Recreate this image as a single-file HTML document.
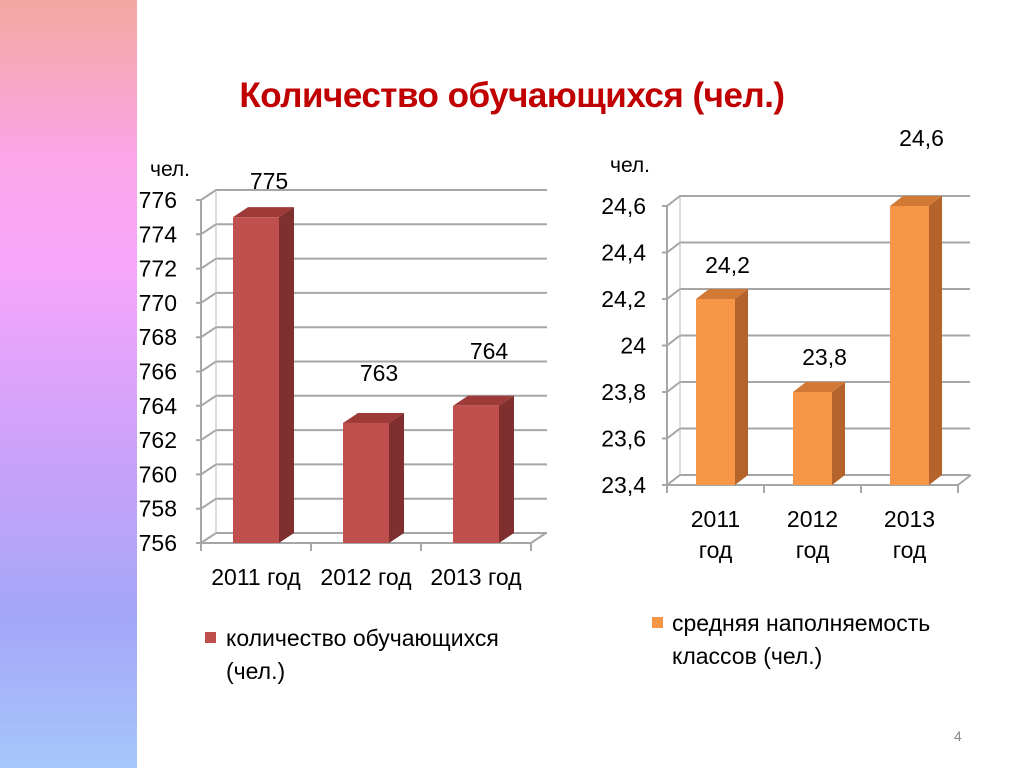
<!DOCTYPE html>
<html><head><meta charset="utf-8"><style>
body{margin:0;width:1024px;height:768px;overflow:hidden;background:#fff;font-family:"Liberation Sans",sans-serif;}
#strip{position:absolute;left:0;top:0;width:137px;height:768px;background:linear-gradient(#f4a8a0 0%,#fba6e6 20%,#f6a6fb 35%,#c9a2f9 60%,#a4a6f9 80%,#a6c6f9 100%);}
#title{position:absolute;left:0;width:1024px;text-align:center;top:76px;font-size:35px;font-weight:bold;color:#c00000;text-indent:0px;letter-spacing:-0.5px}
svg{position:absolute;left:0;top:0}
</style></head><body>
<div id="strip"></div>
<div id="title">Количество обучающихся (чел.)</div>
<svg width="1024" height="768" id="chart"></svg>
<script>
const categoriesL=["2011 год","2012 год","2013 год"];
const valuesL=[775,763,764];
const ticksL=[756,758,760,762,764,766,768,770,772,774,776];
const categoriesR=[["2011","год"],["2012","год"],["2013","год"]];
const valuesR=[24.2,23.8,24.6];
const ticksR=[23.4,23.6,23.8,24,24.2,24.4,24.6];
const tickLabelsR=["23,4","23,6","23,8","24","24,2","24,4","24,6"];
const NS="http://www.w3.org/2000/svg";
const svg=document.getElementById('chart');
function mk(t,a,txt){const e=document.createElementNS(NS,t);for(const k in a)e.setAttribute(k,a[k]);if(txt!==undefined)e.textContent=txt;svg.appendChild(e);return e;}
function chart(o){
 const y=v=>o.y0-(v-o.min)/(o.max-o.min)*(o.y0-o.y1);
 const dx=o.dx,dy=o.dy;
 o.ticks.forEach((t,i)=>{
  const yy=y(t);
  const g=mk('polyline',{points:`${o.x0-5},${yy} ${o.x0},${yy} ${o.x0+dx},${yy-dy} ${o.xr},${yy-dy}`,fill:'none',stroke:'#a6a6a6','stroke-width':2});
  
  
  const tl=mk('text',{x:o.x0-o.tickGap,y:yy+8,'text-anchor':'end','font-size':23,fill:'#000'},o.labels[i]);
  
  
 });
 mk('line',{x1:o.x0,y1:y(o.min),x2:o.x0,y2:y(o.max),stroke:'#a6a6a6','stroke-width':2});
 mk('polyline',{points:`${o.x0+dx},${y(o.max)-dy} ${o.x0+dx},${y(o.min)-dy}`,fill:'none',stroke:'#bbb','stroke-width':1});
 mk('line',{x1:o.x0,y1:y(o.min),x2:o.x0+o.cw*o.cats.length,y2:y(o.min),stroke:'#a6a6a6','stroke-width':2});
 mk('line',{x1:o.x0+o.cw*o.cats.length,y1:y(o.min),x2:o.x0+o.cw*o.cats.length+dx,y2:y(o.min)-dy,stroke:'#a6a6a6','stroke-width':2});
 for(let i=0;i<=o.cats.length;i++){const xx=o.x0+o.cw*i;mk('line',{x1:xx,y1:y(o.min),x2:xx,y2:y(o.min)+8,stroke:'#a6a6a6','stroke-width':2});}
 o.vals.forEach((v,i)=>{
  const cx=o.x0+o.cw*(i+0.5), bw=o.bw, x1=cx-bw/2, x2=cx+bw/2, yt=y(v), yb=y(o.min);
  const top=mk('polygon',{points:`${x1},${yt} ${x1+dx},${yt-dy} ${x2+dx},${yt-dy} ${x2},${yt}`,fill:o.topc});
  
  
  const side=mk('polygon',{points:`${x2},${yt} ${x2+dx},${yt-dy} ${x2+dx},${yb-dy} ${x2},${yb}`,fill:o.side});
  
  
  const r=mk('rect',{x:x1,y:yt,width:bw,height:yb-yt,fill:o.front});
  
  
  const lb=mk('text',{x:cx+o.lblDx,y:yt-o.lblUp[i],'text-anchor':'middle','font-size':23,fill:'#000'},o.vlabels[i]);
  
  
  const lines=Array.isArray(o.cats[i])?o.cats[i]:[o.cats[i]];
  lines.forEach((s,k)=>{const c=mk('text',{x:o.x0+o.cw*(i+0.5),y:yb+o.catDy+k*31,'text-anchor':'middle','font-size':23,fill:'#000'},s);
  
  });
 });
}
chart({x0:201,y0:543,y1:200,min:756,max:776,ticks:ticksL,labels:ticksL.map(String),xr:547,dx:15,dy:10,cw:110,bw:46,tickGap:24,cats:categoriesL,vals:valuesL,vlabels:valuesL.map(String),front:'#c0504d',side:'#7f2f2d',topc:'#9e3b39',lblDx:13,lblUp:[28,42,47],catDy:42});
chart({x0:667,y0:485,y1:206,min:23.4,max:24.6,ticks:ticksR,labels:tickLabelsR,xr:970,dx:13,dy:10,cw:97,bw:39,tickGap:21,cats:categoriesR,vals:valuesR,vlabels:valuesR.map(v=>String(v).replace('.',',')),front:'#f79646',side:'#b4642a',topc:'#d27a35',lblDx:12,lblUp:[26,27,60],catDy:42});
function t(x,y,s,sz,name,col){const e=mk('text',{x:x,y:y,'font-size':sz,fill:col||'#000'},s);return e;}
t(150,176,'чел.',21,'left-y-axis-unit');
t(610,172,'чел.',21,'right-y-axis-unit');
const s1=mk('rect',{x:205,y:632,width:11,height:11,fill:'#c0504d'});


t(226,646,'количество обучающихся',23,'legend-label-students');
t(226,679,'(чел.)',23,'legend-label-students-unit');
const s2=mk('rect',{x:652,y:617,width:11,height:11,fill:'#f79646'});


t(672,631,'средняя наполняемость',23,'legend-label-class-size');
t(672,664,'классов (чел.)',23,'legend-label-class-size-2');
t(954,741,'4',14,'page-number','#888');
</script>
</body></html>
